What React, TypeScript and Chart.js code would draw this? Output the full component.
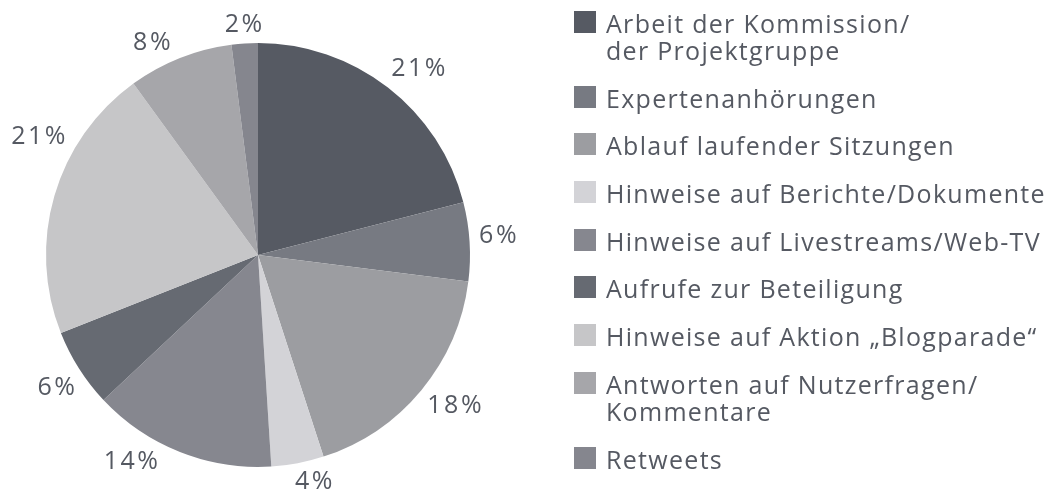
import React, { useEffect, useRef } from "react";
import { Chart, registerables } from "chart.js";

Chart.register(...registerables);

const categories: string[][] = [
  ["Arbeit der Kommission/", "der Projektgruppe"],
  ["Expertenanhörungen"],
  ["Ablauf laufender Sitzungen"],
  ["Hinweise auf Berichte/Dokumente"],
  ["Hinweise auf Livestreams/Web-TV"],
  ["Aufrufe zur Beteiligung"],
  ["Hinweise auf Aktion „Blogparade“"],
  ["Antworten auf Nutzerfragen/", "Kommentare"],
  ["Retweets"],
];
const values: number[] = [21, 6, 18, 4, 14, 6, 21, 8, 2];
const colors: string[] = [
  "#565a63",
  "#777a82",
  "#9c9da1",
  "#d3d3d7",
  "#86878f",
  "#666a72",
  "#c6c6c8",
  "#a6a6aa",
  "#85868e",
];

// style: small angular nudges (degrees) for the outside percentage labels
const labelAngleShiftDeg: number[] = [3, -1, -2, -3, 10, -1, 12, -5, 0];

const TEXT_COLOR = "#555962";
const FONT = "'Open Sans', sans-serif";

const labelPlugin = {
  id: "outerLabels",
  afterDatasetsDraw(chart: any) {
    const ctx = chart.ctx as CanvasRenderingContext2D;
    const meta = chart.getDatasetMeta(0);
    ctx.save();
    ctx.font = `25px ${FONT}`;
    (ctx as any).letterSpacing = "2.5px";
    ctx.fillStyle = TEXT_COLOR;
    ctx.textAlign = "center";
    ctx.textBaseline = "middle";
    meta.data.forEach((arc: any, i: number) => {
      const text = `${values[i]}%`;
      const mid =
        (arc.startAngle + arc.endAngle) / 2 + ((labelAngleShiftDeg[i] || 0) * Math.PI) / 180;
      const w = ctx.measureText(text).width;
      const h = 18;
      const c = Math.cos(mid);
      const s = Math.sin(mid);
      const ext = Math.abs(c) * (w / 2) + Math.abs(s) * (h / 2);
      const d = arc.outerRadius + 8 + ext;
      ctx.fillText(text, arc.x + c * d + 1.2, arc.y + s * d);
    });
    ctx.restore();
  },
};

export default function App() {
  const ref = useRef<HTMLCanvasElement | null>(null);
  useEffect(() => {
    if (!ref.current) return;
    const chart = new Chart(ref.current, {
      type: "pie",
      data: {
        labels: categories.map((c) => c.join(" ")),
        datasets: [
          {
            data: values,
            backgroundColor: colors,
            borderWidth: 0,
          },
        ],
      },
      options: {
        responsive: false,
        animation: false,
        layout: { padding: { top: 43, bottom: 25, left: 46, right: 578 } },
        plugins: {
          legend: { display: false },
          tooltip: { enabled: false },
        },
      },
      plugins: [labelPlugin],
    });
    return () => chart.destroy();
  }, []);

  return (
    <div
      style={{
        position: "absolute",
        left: 0,
        top: 0,
        width: 1048,
        height: 492,
        background: "#ffffff",
        overflow: "hidden",
      }}
    >
      <canvas ref={ref} width={1048} height={492} style={{ position: "absolute", left: 0, top: 0 }} />
      <div
        style={{
          position: "absolute",
          left: 574,
          top: 10,
          display: "flex",
          flexDirection: "column",
          gap: "20.7px",
          fontFamily: FONT,
          fontSize: 25,
          lineHeight: "27px",
          letterSpacing: "1.3px",
          color: TEXT_COLOR,
        }}
      >
        {categories.map((lines, i) => (
          <div key={i} style={{ position: "relative", paddingLeft: 32, whiteSpace: "nowrap" }}>
            <span
              style={{
                position: "absolute",
                left: 0,
                top: 1,
                width: 22,
                height: 22,
                background: colors[i],
              }}
            />
            {lines.map((l, j) => (
              <div key={j}>{l}</div>
            ))}
          </div>
        ))}
      </div>
    </div>
  );
}
